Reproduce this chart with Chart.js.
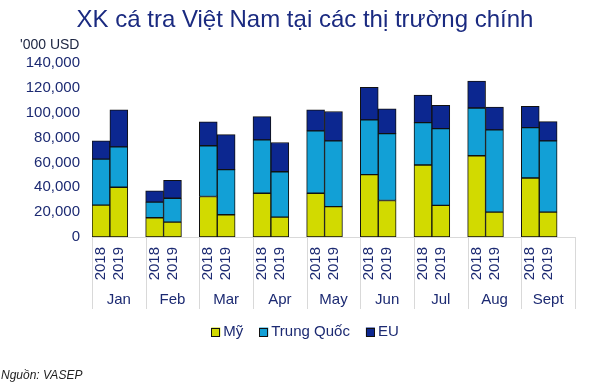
<!DOCTYPE html>
<html>
<head>
<meta charset="utf-8">
<title>XK cá tra Việt Nam</title>
<script src="https://cdn.jsdelivr.net/npm/chart.js@4.4.1/dist/chart.umd.min.js"></script>
<style>
  html, body { margin: 0; padding: 0; background: #fff; }
  #wrap { width: 600px; height: 389px; }
</style>
</head>
<body>
<div id="wrap"><canvas id="chart" width="600" height="389"></canvas></div>
<script>
// values in '000 USD, one entry per bar: Jan 2018, Jan 2019, Feb 2018, ...
const months = ['Jan', 'Feb', 'Mar', 'Apr', 'May', 'Jun', 'Jul', 'Aug', 'Sept'];
const years = ['2018', '2019'];
const my = [25600, 40000, 15500, 12000, 32600, 17900, 35200, 16000, 35200, 24500, 50200, 29400, 57900, 25400, 65400, 20000, 47500, 20000];
const trungQuoc = [37100, 32500, 12500, 19200, 40800, 36300, 43000, 36500, 50200, 52900, 44000, 53800, 34100, 61800, 38400, 66200, 40500, 57400];
const eu = [14700, 29900, 9100, 14400, 19200, 28200, 18600, 23500, 17000, 23600, 26300, 20000, 22200, 18700, 21600, 18400, 17100, 15400];
const yTicks = [0, 20000, 40000, 60000, 80000, 100000, 120000, 140000];

const navy = '#1c2a72';
const fontFamily = '"Liberation Sans", Arial, sans-serif';
Chart.defaults.font.family = fontFamily;

// each month gets 3 slots: 2018, 2019 and an empty one
const slotsPerMonth = years.length + 1;
const labels = [];
const toSlots = (arr) => {
  const out = [];
  months.forEach((m, i) => {
    years.forEach((y, j) => out.push(arr[i * years.length + j]));
    out.push(null);
  });
  return out;
};
months.forEach(() => {
  years.forEach(y => labels.push(y));
  labels.push('');
});

// title, month labels, group separators, legend and source note
const extrasPlugin = {
  id: 'extras',
  afterDraw(chart) {
    const ctx = chart.ctx;
    const x = chart.scales.x;
    const area = chart.chartArea;
    const slot = x.width / labels.length;
    ctx.save();

    ctx.fillStyle = '#1a2a80';
    ctx.font = '24px ' + fontFamily;
    ctx.textAlign = 'center';
    ctx.textBaseline = 'alphabetic';
    ctx.fillText('XK cá tra Việt Nam tại các thị trường chính', 305, 27);

    ctx.strokeStyle = '#d9d9d9';
    ctx.lineWidth = 1;
    for (let k = 0; k <= months.length; k++) {
      const px = Math.round(x.left + k * slotsPerMonth * slot) + 0.5;
      ctx.beginPath();
      ctx.moveTo(px, area.bottom);
      ctx.lineTo(px, area.bottom + 72);
      ctx.stroke();
    }
    ctx.fillStyle = navy;
    ctx.font = '15px ' + fontFamily;
    ctx.textBaseline = 'middle';
    months.forEach((m, k) => {
      const cx = x.left + (k + 0.5) * slotsPerMonth * slot;
      ctx.fillText(m, cx, area.bottom + 63);
    });

    // legend
    const items = chart.data.datasets.map(d => ({ text: d.label, color: d.backgroundColor }));
    const box = 9, gapText = 3, gapItem = 16;
    const widths = items.map(it => box + gapText + ctx.measureText(it.text).width);
    const total = widths.reduce((a, b) => a + b, 0) + gapItem * (items.length - 1);
    let lx = 305 - total / 2;
    const ly = 332;
    ctx.textAlign = 'left';
    items.forEach((it, i) => {
      ctx.fillStyle = it.color;
      ctx.fillRect(lx, ly - box / 2, box, box);
      ctx.strokeStyle = '#111';
      ctx.strokeRect(Math.round(lx) + 0.5, Math.round(ly - box / 2) + 0.5, box - 1, box - 1);
      ctx.fillStyle = navy;
      ctx.fillText(it.text, lx + box + gapText, ly);
      lx += widths[i] + gapItem;
    });

    ctx.fillStyle = '#1b2440';
    ctx.font = '14px ' + fontFamily;
    ctx.fillText("'000 USD", 20, 45);
    ctx.font = 'italic 12px ' + fontFamily;
    ctx.fillStyle = '#222';
    ctx.fillText('Nguồn: VASEP', 1, 376);
    ctx.restore();
  }
};

const barStyle = { borderColor: '#111', borderWidth: 1, barPercentage: 1, categoryPercentage: 1, borderSkipped: false };

new Chart(document.getElementById('chart'), {
  type: 'bar',
  data: {
    labels: labels,
    datasets: [
      { label: 'Mỹ', data: toSlots(my), backgroundColor: '#d2da00', ...barStyle },
      { label: 'Trung Quốc', data: toSlots(trungQuoc), backgroundColor: '#12a0d6', ...barStyle },
      { label: 'EU', data: toSlots(eu), backgroundColor: '#0c2790', ...barStyle },
    ],
  },
  options: {
    responsive: false,
    animation: false,
    layout: { padding: { left: 0, right: 25, top: 63, bottom: 77 } },
    plugins: {
      title: { display: false },
      legend: { display: false },
      tooltip: { enabled: false },
    },
    scales: {
      x: {
        stacked: true,
        grid: { display: false },
        border: { display: true, color: '#d9d9d9' },
        ticks: {
          autoSkip: false,
          minRotation: 90,
          maxRotation: 90,
          color: navy,
          font: { size: 15 },
          padding: 2,
        },
        afterFit(scale) { scale.height = 75; },
      },
      y: {
        stacked: true,
        min: 0,
        max: 140000,
        grid: { display: false },
        border: { display: false },
        afterBuildTicks(scale) { scale.ticks = yTicks.map(v => ({ value: v })); },
        afterFit(scale) { scale.width = 92; },
        ticks: {
          color: navy,
          font: { size: 15 },
          padding: 4,
          callback: (v) => v.toLocaleString('en-US'),
        },
      },
    },
  },
  plugins: [extrasPlugin],
});
</script>
</body>
</html>
